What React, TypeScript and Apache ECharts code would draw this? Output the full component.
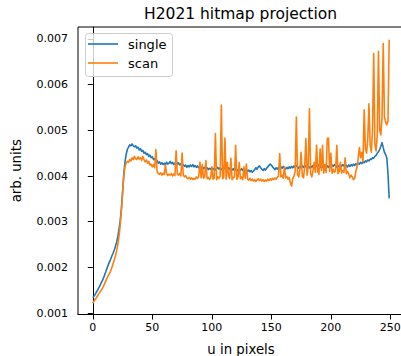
import React, { useEffect, useRef } from "react";
import * as echarts from "echarts";

const TITLE = "H2021 hitmap projection";
const SERIES_NAMES = ["single", "scan"];
const X_TICKS = [0, 50, 100, 150, 200, 250];
const Y_TICKS = [0.001, 0.002, 0.003, 0.004, 0.005, 0.006, 0.007];

const single = [
  0.00134, 0.00137, 0.00141, 0.00146, 0.0015, 0.00155, 0.0016, 0.00166, 0.00171, 0.00177,
  0.00184, 0.00191, 0.00199, 0.00206, 0.00212, 0.00218, 0.00225, 0.00231, 0.00238, 0.00246,
  0.00255, 0.00267, 0.00283, 0.00302, 0.00328, 0.00364, 0.00404, 0.0043, 0.00447, 0.00458,
  0.00463, 0.00468, 0.00466, 0.0047, 0.00466, 0.00464, 0.00466, 0.00461, 0.00463, 0.00457,
  0.0046, 0.00454, 0.00456, 0.0045, 0.00452, 0.00447, 0.00449, 0.00443, 0.00446, 0.0044,
  0.00442, 0.00436, 0.00438, 0.00432, 0.00434, 0.00428, 0.00431, 0.00426, 0.00429, 0.00425,
  0.00428, 0.00424, 0.0043, 0.00426, 0.00428, 0.00432, 0.00427, 0.0043, 0.00425, 0.00428,
  0.00432, 0.00426, 0.00429, 0.00424, 0.00427, 0.00422, 0.00425, 0.00421, 0.00424, 0.00419,
  0.00423, 0.0042, 0.00424, 0.00421, 0.00425, 0.0042, 0.00423, 0.00419, 0.00422, 0.00418,
  0.00421, 0.00417, 0.0042, 0.00416, 0.00419, 0.00415, 0.00418, 0.00414, 0.00417, 0.00415,
  0.00418, 0.00414, 0.00417, 0.00413, 0.00416, 0.00419, 0.00415, 0.00418, 0.00414, 0.00417,
  0.0042, 0.00416, 0.00419, 0.00415, 0.00418, 0.00414, 0.00417, 0.00413, 0.00416, 0.00412,
  0.00415, 0.00411, 0.00414, 0.0041, 0.00413, 0.00416, 0.00412, 0.00415, 0.00411, 0.00414,
  0.0041, 0.00413, 0.00409, 0.00412, 0.00408, 0.00411, 0.00414, 0.00418, 0.00415, 0.0042,
  0.00422, 0.00418, 0.00415, 0.00412, 0.00416, 0.00413, 0.00417, 0.0042, 0.00423, 0.00426,
  0.00424, 0.0042, 0.00417, 0.00414, 0.00418, 0.00415, 0.00419, 0.00416, 0.0042, 0.00417,
  0.00421, 0.00418, 0.00415, 0.00419, 0.00416, 0.0042, 0.00417, 0.00421, 0.00418, 0.00422,
  0.00419, 0.00423, 0.0042, 0.00417, 0.00421, 0.00418, 0.00422, 0.00419, 0.00423, 0.0042,
  0.00424, 0.00421, 0.00418, 0.00422, 0.00419, 0.00423, 0.0042, 0.00424, 0.00421, 0.00425,
  0.00422, 0.00419, 0.00423, 0.0042, 0.00424, 0.00421, 0.00418, 0.00422, 0.00419, 0.00423,
  0.0042, 0.00424, 0.00421, 0.00425, 0.00422, 0.00419, 0.00423, 0.0042, 0.00424, 0.00421,
  0.00425, 0.00422, 0.00426, 0.00423, 0.0042, 0.00424, 0.00421, 0.00425, 0.00422, 0.00426,
  0.00423, 0.00427, 0.00424, 0.00428, 0.00426, 0.0043, 0.00427, 0.00431, 0.00429, 0.00433,
  0.00431, 0.00435, 0.00433, 0.00437, 0.00436, 0.0044, 0.00439, 0.00443, 0.00445, 0.0045,
  0.00453, 0.00458, 0.00465, 0.00473, 0.00462, 0.00452, 0.00447, 0.0044, 0.00405, 0.00351,
];

const scan = [
  0.00122, 0.00126, 0.0013, 0.00134, 0.00138, 0.00142, 0.00146, 0.0015, 0.00154, 0.00159,
  0.00165, 0.00171, 0.00177, 0.00182, 0.00187, 0.00192, 0.002, 0.00208, 0.00216, 0.00225,
  0.00236, 0.0025, 0.00268, 0.00292, 0.00325, 0.00362, 0.00398, 0.0042, 0.00428, 0.00432,
  0.0043, 0.00436, 0.00433, 0.0044, 0.00436, 0.00443, 0.00438, 0.00436, 0.00442, 0.00437,
  0.0044, 0.00434, 0.00443, 0.00436, 0.00431, 0.00435, 0.00428, 0.00432, 0.00424, 0.00426,
  0.0042, 0.00425, 0.00418, 0.00458, 0.0041, 0.00405, 0.00404, 0.00407, 0.00402, 0.00406,
  0.00403, 0.00424, 0.00405, 0.00401, 0.00404, 0.00402, 0.00405, 0.004, 0.00404, 0.00401,
  0.00455, 0.00404, 0.00402, 0.00406, 0.004, 0.0045, 0.00402, 0.00398, 0.00401, 0.00396,
  0.00394, 0.00397, 0.00393, 0.00396, 0.00392, 0.00395, 0.00393, 0.00398, 0.00395, 0.004,
  0.0043, 0.00396, 0.00425, 0.00395, 0.00398, 0.00434, 0.00394, 0.00397, 0.00392, 0.00396,
  0.0042, 0.00393, 0.00395, 0.00493, 0.00392, 0.00398, 0.00395, 0.004, 0.00555, 0.00394,
  0.00397, 0.00483, 0.00393, 0.0043, 0.004, 0.00394, 0.00439, 0.00392, 0.00396, 0.00398,
  0.00467, 0.00393, 0.00397, 0.0043, 0.00394, 0.00398, 0.00392, 0.0042, 0.00395, 0.00426,
  0.00393, 0.00391, 0.00395, 0.0039, 0.00393, 0.00389, 0.00392, 0.00388, 0.00391, 0.00394,
  0.0039, 0.00393, 0.00389, 0.00392, 0.00388, 0.00391, 0.00389, 0.00393, 0.0039, 0.00394,
  0.00391, 0.00395, 0.00392, 0.00396, 0.00393, 0.00397, 0.004, 0.00449, 0.00398, 0.00402,
  0.00395, 0.0042, 0.00396, 0.00399, 0.00393, 0.00397, 0.00385, 0.00378, 0.00395, 0.004,
  0.0041, 0.00529, 0.00404, 0.00398, 0.00415, 0.00452, 0.004, 0.00396, 0.0042, 0.00482,
  0.00402, 0.0042, 0.00547, 0.00405, 0.00398, 0.00412, 0.0043, 0.00408, 0.00467, 0.0041,
  0.00404, 0.00459, 0.00412, 0.00467, 0.00406, 0.00425, 0.00408, 0.00482, 0.00483, 0.0041,
  0.0045, 0.00406, 0.00415, 0.00408, 0.00412, 0.00467, 0.00405, 0.0041, 0.0043, 0.00406,
  0.00412, 0.00408, 0.0044, 0.00405, 0.0041, 0.00404, 0.00396, 0.00402, 0.00398, 0.00392,
  0.00395, 0.0041, 0.0042, 0.0044, 0.00462, 0.0044, 0.00452, 0.00432, 0.00545, 0.0046,
  0.0045, 0.0048, 0.00558, 0.0047, 0.00452, 0.005, 0.00668, 0.0047, 0.00455, 0.0049,
  0.00673, 0.005, 0.0049, 0.0053, 0.0069, 0.0053, 0.00518, 0.00512, 0.0052, 0.00698,
];

const COLORS = ["#1f77b4", "#ff7f0e"];
const FONT = "DejaVu Sans";

export default function App() {
  const ref = useRef<HTMLDivElement>(null);
  useEffect(() => {
    if (!ref.current) return;
    const chart = echarts.init(ref.current, null, { renderer: "svg" });
    const toPairs = (arr: number[]) => arr.map((v, i) => [i, v]);
    const legendChildren: any[] = [
      {
        type: "rect",
        shape: { x: 85.5, y: 33.5, width: 87, height: 43, r: 3 },
        style: { fill: "rgba(255,255,255,0.8)", stroke: "#cccccc", lineWidth: 1 },
        z: 100,
      },
    ];
    SERIES_NAMES.forEach((name, i) => {
      legendChildren.push({
        type: "line",
        shape: { x1: 88, y1: 44 + i * 19, x2: 118, y2: 44 + i * 19 },
        style: { stroke: COLORS[i], lineWidth: 1.6 },
        z: 101,
      });
      legendChildren.push({
        type: "text",
        x: 128,
        y: 44 + i * 19,
        style: {
          text: name,
          fontSize: 13,
          fontFamily: FONT,
          fill: "#000",
          align: "left",
          verticalAlign: "middle",
        },
        z: 101,
      });
    });
    const option: any = {
      animation: false,
      backgroundColor: "#ffffff",
      textStyle: { fontFamily: FONT },
      graphic: [
        {
          type: "text",
          x: 240.5,
          y: 14,
          style: {
            text: TITLE,
            fontSize: 15.5,
            fontFamily: FONT,
            fill: "#000",
            align: "center",
            verticalAlign: "middle",
          },
        },
        ...legendChildren,
      ],
      grid: {
        left: 78,
        right: 0,
        top: 27,
        bottom: 41.5,
        show: true,
        borderColor: "#000",
        borderWidth: 1,
        backgroundColor: "transparent",
        containLabel: false,
        outerBoundsMode: "none",
      },
      xAxis: {
        type: "value",
        min: -12.45,
        max: 261.45,
        name: "u in pixels",
        nameLocation: "middle",
        nameGap: 28,
        nameTextStyle: { fontSize: 13.3, fontFamily: FONT, color: "#000" },
        axisLine: { lineStyle: { color: "#000", width: 1 } },
        axisTick: { length: 5, lineStyle: { color: "#000" }, customValues: X_TICKS },
        axisLabel: { customValues: X_TICKS, color: "#000", fontSize: 11, fontFamily: FONT, margin: 7 },
        splitLine: { show: false },
      },
      yAxis: {
        type: "value",
        min: 0.00097,
        max: 0.00726,
        name: "arb. units",
        nameLocation: "middle",
        nameGap: 55,
        nameTextStyle: { fontSize: 13.3, fontFamily: FONT, color: "#000" },
        axisLine: { show: true, lineStyle: { color: "#000", width: 1 } },
        axisTick: { show: true, length: 5, lineStyle: { color: "#000" }, customValues: Y_TICKS },
        axisLabel: {
          customValues: Y_TICKS,
          color: "#000",
          fontSize: 11,
          fontFamily: FONT,
          margin: 10,
          formatter: (v: number) => v.toFixed(3),
        },
        splitLine: { show: false },
      },
      series: [
        {
          name: SERIES_NAMES[0],
          type: "line",
          data: toPairs(single),
          symbol: "none",
          showSymbol: false,
          lineStyle: { color: COLORS[0], width: 1.6, join: "round" },
          itemStyle: { color: COLORS[0] },
          z: 2,
        },
        {
          name: SERIES_NAMES[1],
          type: "line",
          data: toPairs(scan),
          symbol: "none",
          showSymbol: false,
          lineStyle: { color: COLORS[1], width: 1.6, join: "round" },
          itemStyle: { color: COLORS[1] },
          z: 3,
        },
      ],
    };
    chart.setOption(option);
    return () => chart.dispose();
  }, []);
  return (
    <div
      ref={ref}
      style={{ position: "fixed", left: 0, top: 0, width: 404, height: 356, background: "#fff" }}
    />
  );
}
